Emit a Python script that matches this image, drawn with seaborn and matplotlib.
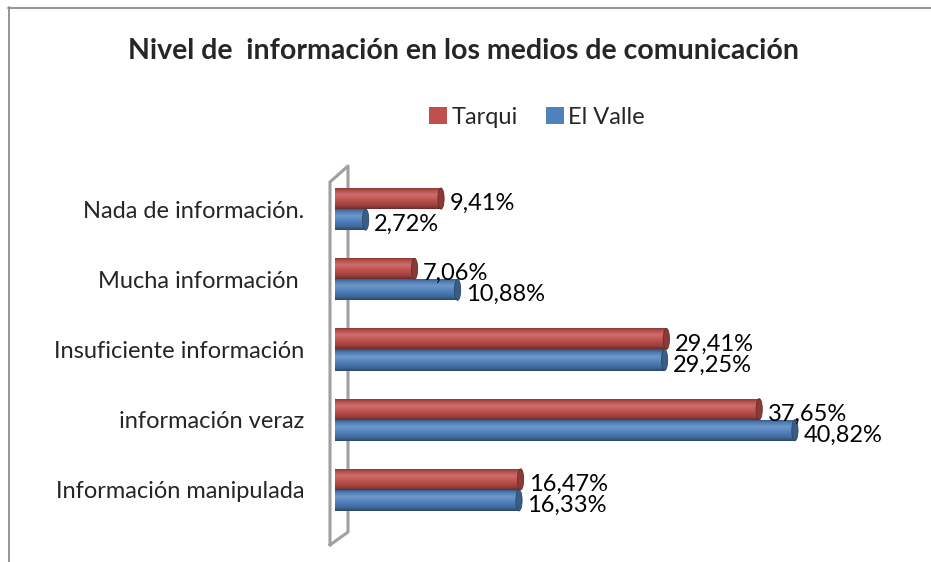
import numpy as np
import pandas as pd
import matplotlib
matplotlib.use("Agg")
import matplotlib.pyplot as plt
import seaborn as sns
from matplotlib.colors import LinearSegmentedColormap, to_rgb
from matplotlib.patches import Ellipse, Patch
from matplotlib.lines import Line2D

categories = ["Nada de información.", "Mucha información ", "Insuficiente información",
              "información veraz", "Información manipulada"]
tarqui = [9.41, 7.06, 29.41, 37.65, 16.47]
el_valle = [2.72, 10.88, 29.25, 40.82, 16.33]
series = ["Tarqui", "El Valle"]
title = "Nivel de  información en los medios de comunicación"

colors = {"Tarqui": "#C0504D", "El Valle": "#4F81BD"}

df = pd.DataFrame({
    "cat": categories * 2,
    "val": tarqui + el_valle,
    "serie": ["Tarqui"] * len(categories) + ["El Valle"] * len(categories),
})

sns.set_style("white")
FONT = ["Lato", "DejaVu Sans"]
plt.rcParams["font.family"] = FONT

W, H = 931, 562
fig = plt.figure(figsize=(W / 100, H / 100), dpi=100)
ax = fig.add_axes([335 / W, 1 - 532 / H, (842 - 335) / W, (532 - 167) / H])

sns.barplot(data=df, y="cat", x="val", hue="serie", order=categories,
            hue_order=series, palette=colors, width=0.6, orient="h",
            ax=ax, legend=False, linewidth=0, saturation=1)

ax.set_xlim(0, 45)
ax.set_ylim(4.6, -0.6)
for s in ax.spines.values():
    s.set_visible(False)
ax.set_xticks([])
ax.set_xlabel("")
ax.set_ylabel("")
ax.tick_params(axis="y", length=0, pad=22, labelsize=17)


def shade(c, f):
    r, g, b = to_rgb(c)
    if f >= 1:
        return tuple(min(1, x + (1 - x) * (f - 1)) for x in (r, g, b))
    return (r * f, g * f, b * f)


grad = np.linspace(0, 1, 200).reshape(-1, 1)
cap_w = 0.55
bars = list(ax.patches)
for p in bars:
    fc = p.get_facecolor()
    cmap = LinearSegmentedColormap.from_list(
        "cyl", [(0, shade(fc, 0.62)), (0.15, shade(fc, 0.95)), (0.35, shade(fc, 1.18)),
                (0.6, shade(fc, 1.0)), (0.85, shade(fc, 0.8)), (1, shade(fc, 0.55))])
    x0, y0, w, h = p.get_x(), p.get_y(), p.get_width(), p.get_height()
    left = Ellipse((x0, y0 + h / 2), cap_w, h, facecolor=shade(fc, 0.9),
                   edgecolor="none", zorder=2)
    ax.add_patch(left)
    im = ax.imshow(grad, cmap=cmap, aspect="auto", origin="upper",
                   extent=(x0, x0 + w, y0 + h, y0), zorder=3)
    im.set_clip_path(p)
    cap = Ellipse((x0 + w, y0 + h / 2), cap_w, h, facecolor=shade(fc, 0.72),
                  edgecolor=shade(fc, 0.55), linewidth=0.6, zorder=4)
    ax.add_patch(cap)
    lab = f"{w:.2f}".replace(".", ",") + "%"
    ax.text(x0 + w + 0.75, y0 + h / 2 + 0.07, lab, va="center", ha="left",
            fontsize=17, color="black", zorder=5)

ax.set_xlim(0, 45)
ax.set_ylim(4.6, -0.6)

# 3D wall outline
gray = "#A0A0A0"
pts = [(330, 545), (330, 182), (348, 166), (348, 532), (330, 545)]
fig.add_artist(Line2D([x / W for x, y in pts], [1 - y / H for x, y in pts],
                      color=gray, linewidth=2.2, zorder=0))
ax.set_zorder(2)
ax.patch.set_alpha(0)

# chart border (top and left)
fig.add_artist(Line2D([8 / W, 1], [1 - 7.5 / H, 1 - 7.5 / H], color="#8C8C8C", linewidth=1.3))
fig.add_artist(Line2D([8.5 / W, 8.5 / W], [1 - 7 / H, 0], color="#8C8C8C", linewidth=1.3))

fig.text(463 / W, 1 - 51 / H, title, ha="center", va="center",
         fontsize=20.5, fontweight="bold")

handles = [Patch(facecolor=colors[s], edgecolor="none") for s in series]
fig.legend(handles, series, loc="center", bbox_to_anchor=(537 / W, 1 - 117 / H),
           ncol=2, frameon=False, fontsize=17, handlelength=0.75, handleheight=0.75,
           handletextpad=0.2, columnspacing=1.2)

fig.savefig("out.png", dpi=100)
